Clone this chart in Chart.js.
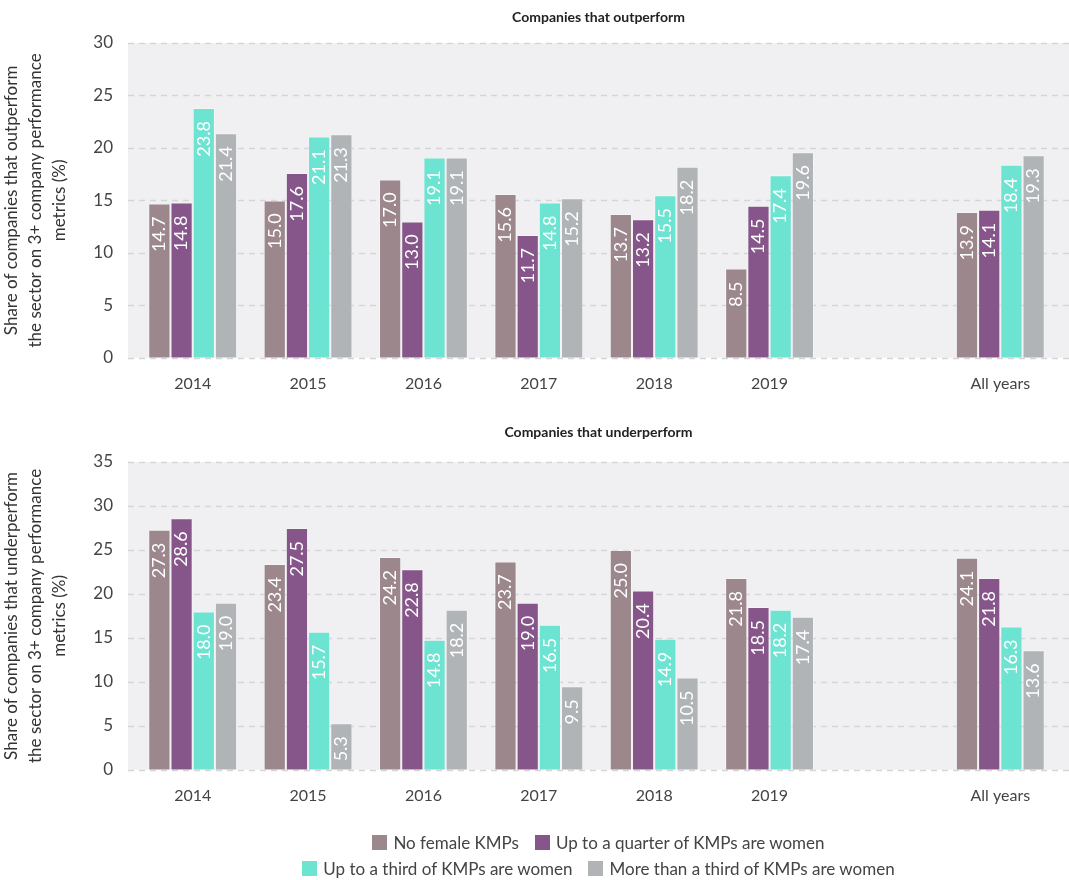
<!DOCTYPE html>
<html>
<head>
<meta charset="utf-8">
<script src="https://cdn.jsdelivr.net/npm/chart.js@4"></script>
<style>
  body { margin: 0; background: #fff; font-family: Lato, sans-serif; }
  #wrap { position: relative; width: 1069px; height: 880px; }
  .box { position: absolute; left: 0; width: 1069px; }
  #legend { position: absolute; left: 128px; width: 941px; top: 829px; color: #444; font-size: 17px; }
  .row { display: flex; justify-content: center; gap: 16px; height: 26px; align-items: center; }
  .item { display: flex; align-items: center; gap: 6px; }
  .sw { width: 15px; height: 15px; display: inline-block; }
</style>
</head>
<body>
<div id="wrap">
  <div class="box" style="top:0;height:417px"><canvas id="topChart"></canvas></div>
  <div class="box" style="top:400px;height:426px"><canvas id="bottomChart"></canvas></div>
  <div id="legend"></div>
</div>
<script>
const categories = ["2014", "2015", "2016", "2017", "2018", "2019", "", "All years"];
const seriesNames = [
  "No female KMPs",
  "Up to a quarter of KMPs are women",
  "Up to a third of KMPs are women",
  "More than a third of KMPs are women",
];
const colors = ["#9c878d", "#86568a", "#6de3d1", "#b1b4b7"];

// companies that outperform
const outNone = [14.7, 15.0, 17.0, 15.6, 13.7, 8.5, null, 13.9];
const outQuarter = [14.8, 17.6, 13.0, 11.7, 13.2, 14.5, null, 14.1];
const outThird = [23.8, 21.1, 19.1, 14.8, 15.5, 17.4, null, 18.4];
const outMore = [21.4, 21.3, 19.1, 15.2, 18.2, 19.6, null, 19.3];

// companies that underperform
const underNone = [27.3, 23.4, 24.2, 23.7, 25.0, 21.8, null, 24.1];
const underQuarter = [28.6, 27.5, 22.8, 19.0, 20.4, 18.5, null, 21.8];
const underThird = [18.0, 15.7, 14.8, 16.5, 14.9, 18.2, null, 16.3];
const underMore = [19.0, 5.3, 18.2, 9.5, 10.5, 17.4, null, 13.6];

const PLOT_LEFT = 128; // grey plot box starts a bit left of the bars' area

// grey plot box + dashed grid, a little wider than the bars' area
const plotBg = {
  id: "plotBg",
  beforeDatasetsDraw(chart) {
    const a = chart.chartArea;
    const ctx = chart.ctx;
    const y = chart.scales.y;
    ctx.save();
    ctx.fillStyle = "#f0f0f2";
    ctx.fillRect(PLOT_LEFT, a.top, chart.width - PLOT_LEFT, a.bottom - a.top);
    ctx.strokeStyle = "#d5d5d8";
    ctx.lineWidth = 1.5;
    ctx.setLineDash([6, 5]);
    y.ticks.forEach((t) => {
      const py = Math.round(y.getPixelForValue(t.value)) + 0.5;
      ctx.beginPath();
      ctx.moveTo(PLOT_LEFT, py);
      ctx.lineTo(chart.width, py);
      ctx.stroke();
    });
    ctx.restore();
  },
};

const panelTitle = {
  id: "panelTitle",
  afterDraw(chart, args, opts) {
    const ctx = chart.ctx;
    ctx.save();
    ctx.fillStyle = "#222";
    ctx.font = "bold 14px Lato";
    ctx.textAlign = "center";
    ctx.textBaseline = "middle";
    ctx.fillText(opts.text, (PLOT_LEFT + chart.width) / 2, opts.y);
    ctx.restore();
  },
};

const barLabels = {
  id: "barLabels",
  afterDatasetsDraw(chart) {
    const ctx = chart.ctx;
    ctx.save();
    ctx.fillStyle = "#fff";
    ctx.font = "18px Lato";
    ctx.textAlign = "right";
    ctx.textBaseline = "middle";
    chart.data.datasets.forEach((ds, i) => {
      chart.getDatasetMeta(i).data.forEach((bar, j) => {
        const v = ds.data[j];
        if (v == null) return;
        ctx.save();
        ctx.translate(bar.x, bar.y + 13);
        ctx.rotate(-Math.PI / 2);
        ctx.fillText(v.toFixed(1), 0, 0);
        ctx.restore();
      });
    });
    ctx.restore();
  },
};

function makeChart(id, title, titleY, yMax, yTitle, series, pad) {
  return new Chart(document.getElementById(id), {
    type: "bar",
    data: {
      labels: categories,
      datasets: series.map((d, i) => ({
        label: seriesNames[i],
        data: d,
        backgroundColor: colors[i],
        borderColor: "rgba(255,255,255,0.35)",
        borderWidth: 1,
        categoryPercentage: 0.77,
        barPercentage: 1.0,
      })),
    },
    options: {
      responsive: true,
      maintainAspectRatio: false,
      animation: false,
      layout: { padding: pad },
      plugins: {
        legend: { display: false },
        tooltip: { enabled: false },
        panelTitle: { text: title, y: titleY },
      },
      scales: {
        x: {
          grid: { display: false, drawTicks: false },
          border: { display: false },
          ticks: { color: "#444", font: { family: "Lato", size: 16 }, padding: 16 },
        },
        y: {
          min: 0,
          max: yMax,
          ticks: { stepSize: 5, color: "#444", font: { family: "Lato", size: 17 }, padding: 22 },
          grid: { display: false, drawTicks: false },
          border: { display: false },
          title: {
            display: true,
            text: yTitle,
            color: "#333",
            font: { family: "Lato", size: 17, lineHeight: 1.4 },
            padding: 0,
          },
          afterFit(scale) {
            scale.width = 135;
          },
        },
      },
    },
    plugins: [plotBg, panelTitle, barLabels],
  });
}

makeChart(
  "topChart",
  "Companies that outperform",
  17,
  30,
  ["Share of companies that outperform", "the sector on 3+ company performance", "metrics (%)"],
  [outNone, outQuarter, outThird, outMore],
  { top: 43, bottom: 8, left: 0, right: 11 }
);

makeChart(
  "bottomChart",
  "Companies that underperform",
  32,
  35,
  ["Share of companies that underperform", "the sector on 3+ company performance", "metrics (%)"],
  [underNone, underQuarter, underThird, underMore],
  { top: 62, bottom: 5, left: 0, right: 11 }
);

// legend in two rows, built from the series names
const legend = document.getElementById("legend");
[[0, 1], [2, 3]].forEach((idx) => {
  const row = document.createElement("div");
  row.className = "row";
  idx.forEach((i) => {
    const item = document.createElement("div");
    item.className = "item";
    item.innerHTML = '<span class="sw" style="background:' + colors[i] + '"></span><span>' + seriesNames[i] + "</span>";
    row.appendChild(item);
  });
  legend.appendChild(row);
});
</script>
</body>
</html>
